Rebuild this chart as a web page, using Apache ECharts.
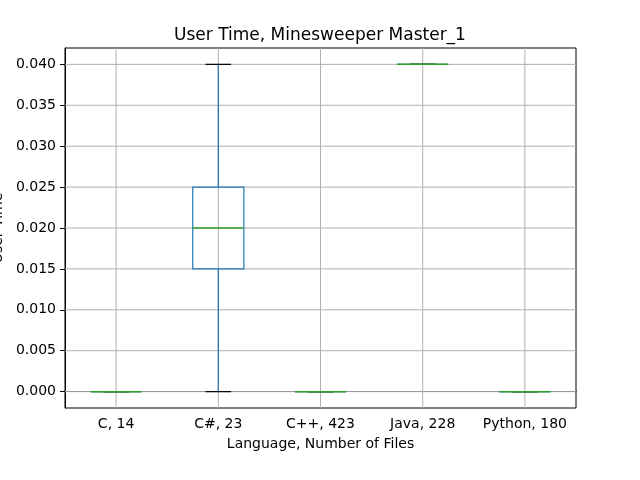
<!DOCTYPE html>
<html>
<head>
    <meta charset="utf-8">
    <script src="https://cdn.jsdelivr.net/npm/echarts@6/dist/echarts.min.js"></script>
</head>
<body style="margin:0">
    <div id="main" style="width:640px;height:480px;"></div>
    <script type="text/javascript">
        var categories = ['C, 14', 'C#, 23', 'C++, 423', 'Java, 228', 'Python, 180'];
        // min, q1, median, q3, max
        var lowValues = [0, 0, 0, 0.04, 0];
        var q1Values = [0, 0.015, 0, 0.04, 0];
        var medianValues = [0, 0.02, 0, 0.04, 0];
        var q3Values = [0, 0.025, 0, 0.04, 0];
        var highValues = [0, 0.04, 0, 0.04, 0];
        var yTicks = [0, 0.005, 0.01, 0.015, 0.02, 0.025, 0.03, 0.035, 0.04];

        var boxData = [];
        for (var i = 0; i < categories.length; i++) {
            boxData.push([i, lowValues[i], q1Values[i], medianValues[i], q3Values[i], highValues[i]]);
        }

        var myChart = echarts.init(document.getElementById('main'));
        var font = 'DejaVu Sans';

        function renderGrid(params, api) {
            var x = api.coord([api.value(0), 0])[0];
            var cs = params.coordSys;
            return {
                type: 'line',
                shape: { x1: x, y1: cs.y, x2: x, y2: cs.y + cs.height },
                style: { stroke: '#b0b0b0', lineWidth: 1 },
                silent: true
            };
        }

        function renderBox(params, api) {
            var idx = api.value(0);
            var bw = api.size([1, 0])[0] * 0.5;
            var cw = bw * 0.5;
            var lo = api.coord([idx, api.value(1)]);
            var q1 = api.coord([idx, api.value(2)]);
            var md = api.coord([idx, api.value(3)]);
            var q3 = api.coord([idx, api.value(4)]);
            var hi = api.coord([idx, api.value(5)]);
            var x = lo[0];
            var blue = '#1f77b4';
            return {
                type: 'group',
                children: [
                    { type: 'rect', shape: { x: x - bw / 2, y: q3[1], width: bw, height: q1[1] - q3[1] },
                      style: { fill: 'none', stroke: blue, lineWidth: 1.2 } },
                    { type: 'line', shape: { x1: x, y1: q1[1], x2: x, y2: lo[1] }, style: { stroke: blue, lineWidth: 1.2 } },
                    { type: 'line', shape: { x1: x, y1: q3[1], x2: x, y2: hi[1] }, style: { stroke: blue, lineWidth: 1.2 } },
                    { type: 'line', shape: { x1: x - cw / 2, y1: lo[1], x2: x + cw / 2, y2: lo[1] }, style: { stroke: '#000', lineWidth: 1.2 } },
                    { type: 'line', shape: { x1: x - cw / 2, y1: hi[1], x2: x + cw / 2, y2: hi[1] }, style: { stroke: '#000', lineWidth: 1.2 } },
                    { type: 'line', shape: { x1: x - bw / 2, y1: md[1], x2: x + bw / 2, y2: md[1] }, style: { stroke: '#2ca02c', lineWidth: 1.5 } }
                ]
            };
        }

        var option = {
            backgroundColor: '#fff',
            animation: false,
            title: {
                text: 'User Time, Minesweeper Master_1',
                left: 'center',
                top: 22,
                textStyle: { fontFamily: font, fontSize: 17, fontWeight: 'normal', color: '#000' }
            },
            grid: {
                left: 65, right: 64, top: 48, bottom: 72,
                containLabel: false,
                outerBoundsMode: 'none',
                show: true, borderColor: '#000', borderWidth: 1
            },
            xAxis: {
                type: 'category',
                data: categories,
                name: 'Language, Number of Files',
                nameLocation: 'middle',
                nameGap: 29,
                nameTextStyle: { fontFamily: font, fontSize: 14, color: '#000' },
                axisLine: { lineStyle: { color: '#000' } },
                axisTick: { alignWithLabel: true, length: 5, lineStyle: { color: '#000' } },
                axisLabel: { fontFamily: font, fontSize: 14, color: '#000', margin: 9, interval: 0, hideOverlap: false },
                splitLine: { show: false }
            },
            yAxis: {
                type: 'value',
                min: -0.002,
                max: 0.042,
                name: 'User Time',
                nameLocation: 'middle',
                nameGap: 58,
                nameTextStyle: { fontFamily: font, fontSize: 14, color: '#000' },
                axisLine: { show: true, lineStyle: { color: '#000' } },
                axisTick: { show: true, length: 5, lineStyle: { color: '#000' }, customValues: yTicks },
                axisLabel: {
                    fontFamily: font, fontSize: 14, color: '#000', margin: 9,
                    customValues: yTicks,
                    formatter: function (v) { return v.toFixed(3); }
                },
                splitLine: { show: false }
            },
            series: [
                {
                    type: 'custom',
                    renderItem: renderGrid,
                    data: boxData,
                    z: 1,
                    silent: true
                },
                {
                    type: 'custom',
                    renderItem: function (params, api) {
                        var y = api.coord([0, api.value(0)])[1];
                        var cs = params.coordSys;
                        return {
                            type: 'line',
                            shape: { x1: cs.x, y1: y, x2: cs.x + cs.width, y2: y },
                            style: { stroke: '#b0b0b0', lineWidth: 1 },
                            silent: true
                        };
                    },
                    data: yTicks.map(function (t) { return [t]; }),
                    encode: { y: 0 },
                    z: 1,
                    silent: true
                },
                {
                    type: 'custom',
                    renderItem: renderBox,
                    data: boxData,
                    encode: { x: 0, y: [1, 2, 3, 4, 5] },
                    z: 3
                }
            ]
        };

        myChart.setOption(option);
    </script>
</body>
</html>
